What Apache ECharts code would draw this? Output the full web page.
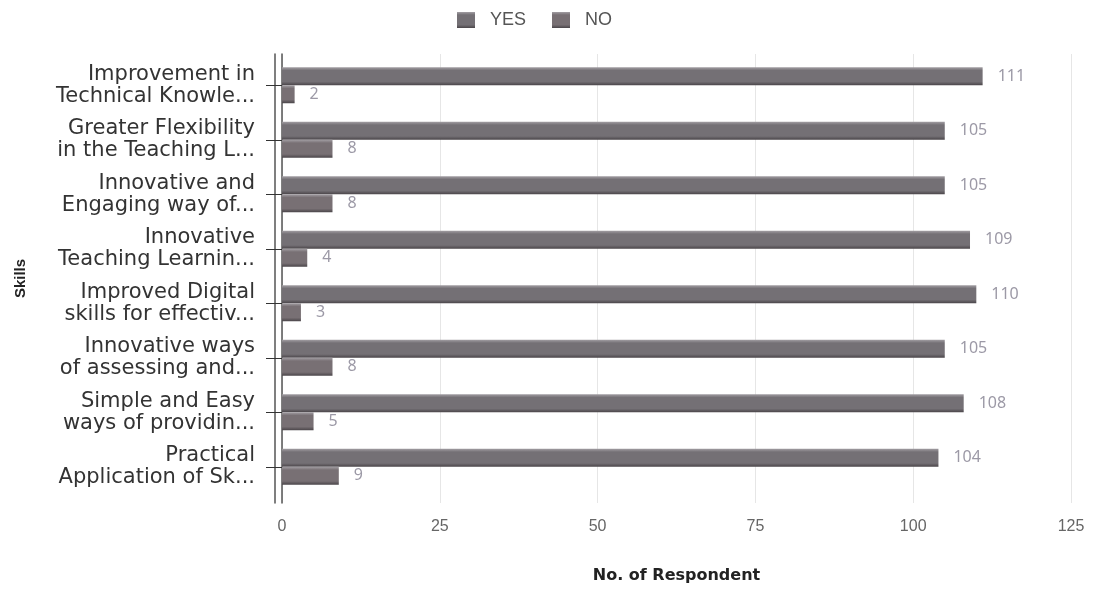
<!DOCTYPE html>
<html>
<head>
<meta charset="utf-8">
<script src="https://cdn.jsdelivr.net/npm/echarts@6/dist/echarts.min.js"></script>
<style>html,body{margin:0;padding:0;background:#fff}#c{width:1093px;height:589px}</style>
</head>
<body>
<div id="c"></div>
<script>
var categories = [
  "Improvement in\nTechnical Knowle...",
  "Greater Flexibility\nin the Teaching L...",
  "Innovative and\nEngaging way of...",
  "Innovative\nTeaching Learnin...",
  "Improved Digital\nskills for effectiv...",
  "Innovative ways\nof assessing and...",
  "Simple and Easy\nways of providin...",
  "Practical\nApplication of Sk..."
];
var yesValues = [111, 105, 105, 109, 110, 105, 108, 104];
var noValues = [2, 8, 8, 4, 3, 8, 5, 9];
var xTicks = { min: 0, max: 125, interval: 25 };

function barColor(mid) {
  return new echarts.graphic.LinearGradient(0, 0, 0, 1, [
    { offset: 0, color: '#a29ea3' },
    { offset: 0.18, color: mid },
    { offset: 0.8, color: mid },
    { offset: 1, color: '#4a4549' }
  ]);
}

var chart = echarts.init(document.getElementById('c'));
var labelStyle = { show: true, position: 'right', distance: 15, color: '#9c99a6', fontSize: 16, fontFamily: 'Noto Sans' };
chart.setOption({
  animation: false,
  legend: {
    data: ['YES', 'NO'], left: 452, top: 6, icon: 'rect', itemWidth: 18, itemHeight: 16, itemGap: 26,
    textStyle: { color: '#555', fontSize: 18, fontFamily: 'Liberation Sans', padding: [0, 0, 0, 10] }
  },
  grid: [
    { left: 282, right: 22, top: 58, bottom: 95 },
    { left: 282, right: 22, top: 54, bottom: 86 }
  ],
  xAxis: [
    { gridIndex: 0, type: 'value', min: xTicks.min, max: xTicks.max, interval: xTicks.interval,
      axisLine: { show: false }, axisTick: { show: false }, splitLine: { show: false }, axisLabel: { show: false } },
    { gridIndex: 1, type: 'value', min: xTicks.min, max: xTicks.max, interval: xTicks.interval,
      axisLine: { show: false }, axisTick: { show: false },
      splitLine: { show: true, lineStyle: { color: '#e6e6e6', width: 1 } },
      axisLabel: { color: '#666', fontSize: 16, margin: 16, fontFamily: 'Liberation Sans' },
      name: 'No. of Respondent', nameLocation: 'middle', nameGap: 65,
      nameTextStyle: { color: '#222', fontSize: 16, fontWeight: 'bold', fontFamily: 'DejaVu Sans' } }
  ],
  yAxis: [
    { gridIndex: 0, type: 'category', data: categories, inverse: true,
      axisLine: { show: false },
      axisTick: { show: true, alignWithLabel: true, length: 16, inside: false, lineStyle: { color: '#333' } },
      axisLabel: { color: '#333', fontSize: 21, lineHeight: 22, margin: 27, fontFamily: 'DejaVu Sans' } },
    { gridIndex: 1, type: 'value', position: 'left', offset: 0,
      axisLine: { show: true, lineStyle: { color: '#555', width: 1.5 } },
      axisTick: { show: false }, axisLabel: { show: false }, splitLine: { show: false },
      name: 'Skills', nameLocation: 'middle', nameGap: 254,
      nameTextStyle: { color: '#222', fontSize: 15, fontWeight: 'bold', fontFamily: 'Liberation Sans' } },
    { gridIndex: 1, type: 'value', position: 'left', offset: 7,
      axisLine: { show: true, lineStyle: { color: '#555', width: 1.5 } },
      axisTick: { show: false }, axisLabel: { show: false }, splitLine: { show: false } }
  ],
  series: [
    { name: 'YES', type: 'bar', xAxisIndex: 0, yAxisIndex: 0, data: yesValues,
      barWidth: 18, barGap: '0%', itemStyle: { color: barColor('#747075') }, label: labelStyle },
    { name: 'NO', type: 'bar', xAxisIndex: 0, yAxisIndex: 0, data: noValues,
      barWidth: 18, barGap: '0%', itemStyle: { color: barColor('#787074') }, label: labelStyle }
  ]
});
</script>
</body>
</html>
